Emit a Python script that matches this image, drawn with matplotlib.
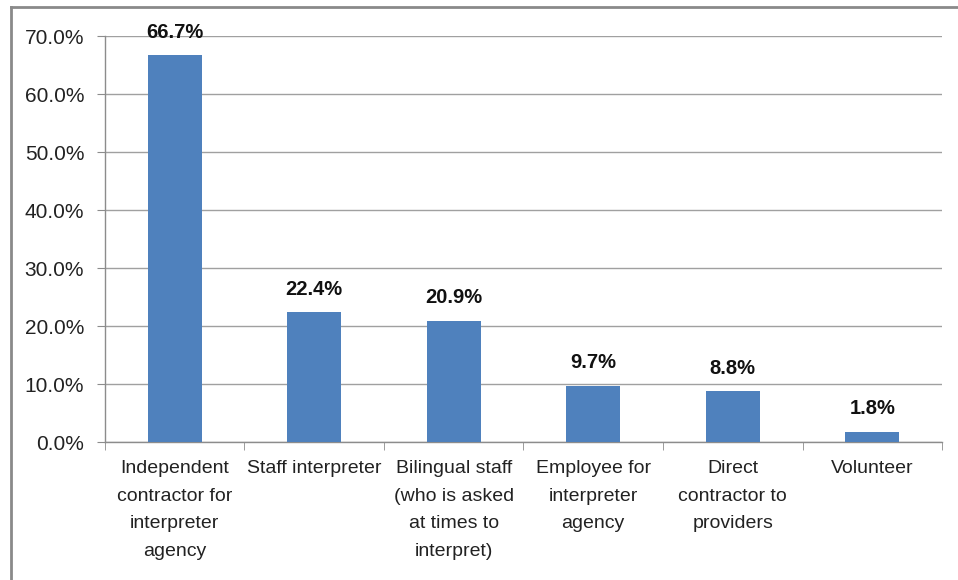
import numpy as np
import matplotlib.pyplot as plt
from matplotlib.ticker import FixedLocator, PercentFormatter
from matplotlib.lines import Line2D

categories = [
    "Independent\ncontractor for\ninterpreter\nagency",
    "Staff interpreter",
    "Bilingual staff\n(who is asked\nat times to\ninterpret)",
    "Employee for\ninterpreter\nagency",
    "Direct\ncontractor to\nproviders",
    "Volunteer",
]
shares = [66.7, 22.4, 20.9, 9.7, 8.8, 1.8]   # percent of respondents
y_ticks = [0, 10, 20, 30, 40, 50, 60, 70]

plt.rcParams['font.family'] = ['Liberation Sans', 'DejaVu Sans']

fig = plt.figure(figsize=(9.58, 5.8), dpi=100)
ax = fig.add_axes([0.1096, 0.2379, 0.8737, 0.7000])

x = np.arange(len(categories))
bars = ax.bar(x, shares, width=0.39, color='#4F81BD', zorder=3)

for b, v in zip(bars, shares):
    ax.text(b.get_x() + b.get_width() / 2, v + 2.3, f"{v:.1f}%",
            ha='center', va='bottom', fontsize=14.5, fontweight='bold', color='#111111')

ax.set_xlim(-0.5, len(categories) - 0.5)
ax.set_ylim(0, 70)
ax.set_yticks(y_ticks)
ax.yaxis.set_major_formatter(PercentFormatter(decimals=1))
ax.yaxis.grid(True, color='#a0a0a0', lw=1, zorder=0)

# category labels centred under bars, tick marks on the boundaries
ax.set_xticks(x)
ax.set_xticklabels(categories, fontsize=14, linespacing=1.82, color='#222222')
ax.tick_params(axis='x', length=0, pad=13)
ax.xaxis.set_minor_locator(FixedLocator(np.arange(-0.5, len(categories), 1.0)))
ax.tick_params(axis='x', which='minor', length=6, color='#8c8c8c', direction='out')
ax.tick_params(axis='y', length=6, color='#8c8c8c', labelsize=15, pad=9, labelcolor='#222222')

for side in ['top', 'right']:
    ax.spines[side].set_visible(False)
for side in ['left', 'bottom']:
    ax.spines[side].set_color('#8c8c8c')
    ax.spines[side].set_linewidth(1)

# outer chart frame
fig.add_artist(Line2D([10.5 / 958, 10.5 / 958], [0, 1 - 7 / 580],
                      transform=fig.transFigure, color='#8a8a8a', lw=2))
fig.add_artist(Line2D([10.5 / 958, 1], [1 - 7 / 580, 1 - 7 / 580],
                      transform=fig.transFigure, color='#8a8a8a', lw=2))

fig.savefig('out.png', dpi=100)
